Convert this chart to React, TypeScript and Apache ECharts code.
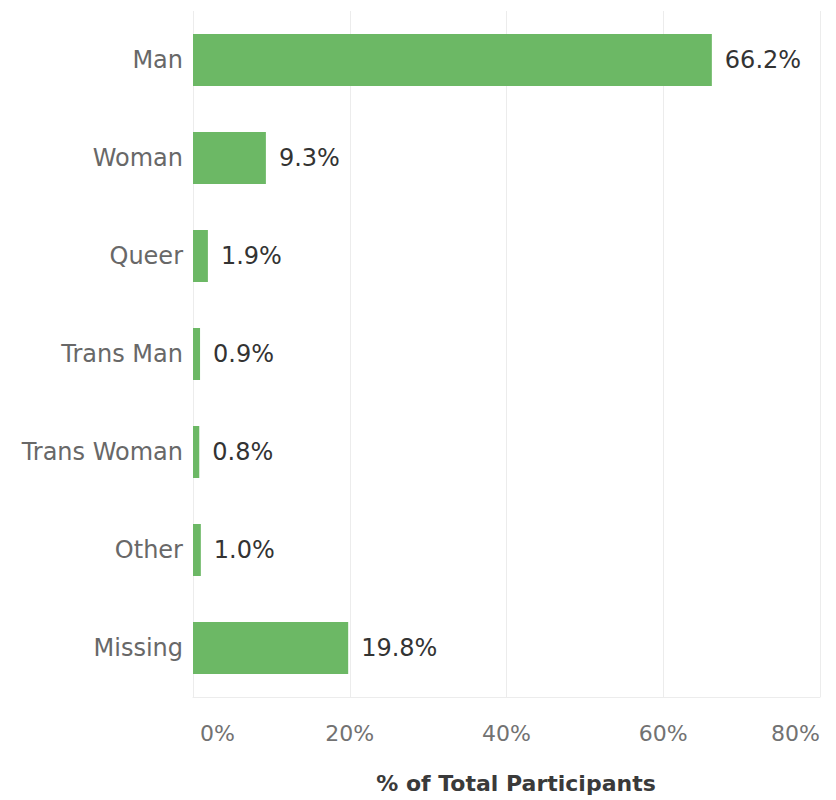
import React, { useEffect, useRef } from "react";
import * as echarts from "echarts";

const categories = ["Man", "Woman", "Queer", "Trans Man", "Trans Woman", "Other", "Missing"];
const values = [66.2, 9.3, 1.9, 0.9, 0.8, 1.0, 19.8];
const xTicks = { min: 0, max: 80, interval: 20 };
const axisTitle = "% of Total Participants";

const FONT = "'DejaVu Sans', sans-serif";

export default function App() {
  const ref = useRef<HTMLDivElement>(null);
  useEffect(() => {
    if (!ref.current) return;
    const chart = echarts.init(ref.current, undefined, { renderer: "svg" });
    chart.setOption({
      animation: false,
      textStyle: { fontFamily: FONT },
      grid: { left: 193, right: 16, top: 11, bottom: 103, containLabel: false },
      xAxis: {
        type: "value",
        min: xTicks.min,
        max: xTicks.max,
        interval: xTicks.interval,
        axisLine: { show: true, lineStyle: { color: "#ececec", width: 1 } },
        axisTick: { show: false },
        splitLine: { show: true, lineStyle: { color: "#ececec", width: 1 } },
        axisLabel: {
          formatter: (v: number) => (v === xTicks.min ? ` ${v}%` : `${v}%`),
          color: "#727272",
          fontSize: 22,
          fontFamily: FONT,
          margin: 25,
          alignMinLabel: "left",
          alignMaxLabel: "right",
        },
      },
      yAxis: {
        type: "category",
        data: categories,
        inverse: true,
        axisLine: { show: false },
        axisTick: { show: false },
        splitLine: { show: false },
        axisLabel: {
          color: "#686868",
          fontSize: 24,
          fontFamily: FONT,
          margin: 10,
        },
      },
      graphic: [
        {
          type: "text",
          x: 516,
          y: 783,
          style: {
            text: axisTitle,
            fill: "#3a3a3a",
            font: `bold 22px ${FONT}`,
            textAlign: "center",
            textVerticalAlign: "middle",
          },
        },
      ],
      series: [
        {
          type: "bar",
          data: values,
          barWidth: 52,
          itemStyle: { color: "#6cb865" },
          label: {
            show: true,
            position: "right",
            distance: 13,
            formatter: (p: any) => `${Number(p.value).toFixed(1)}%`,
            color: "#333333",
            fontSize: 24,
            fontFamily: FONT,
          },
        },
      ],
    });
    return () => chart.dispose();
  }, []);
  return <div ref={ref} style={{ width: 836, height: 800, position: "absolute", left: 0, top: 0 }} />;
}
